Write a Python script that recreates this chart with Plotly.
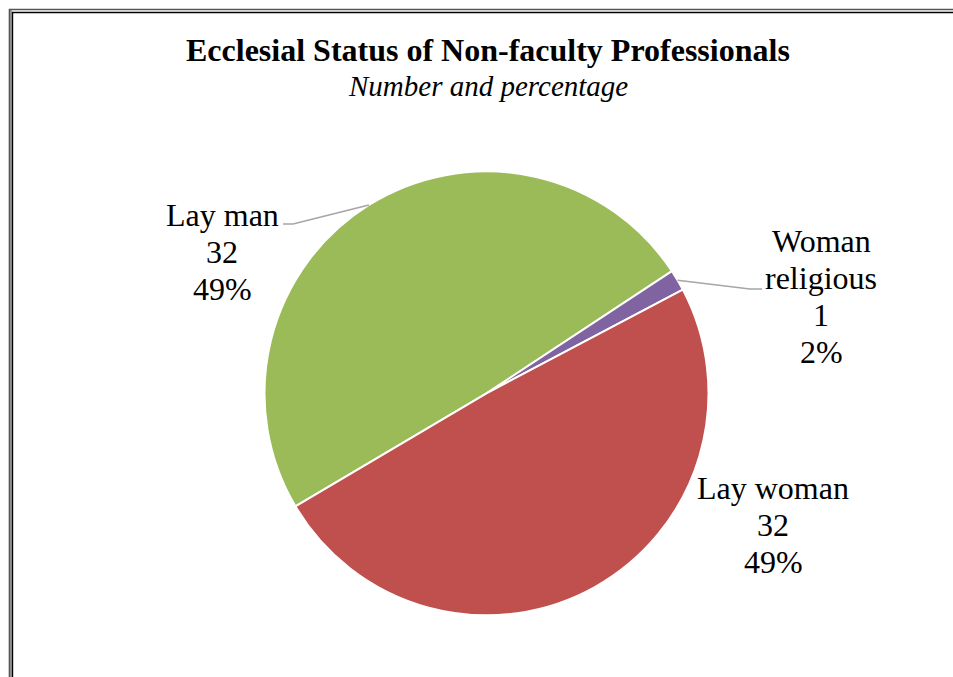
import math
import plotly.graph_objects as go

# Data
categories = ["Lay man", "Woman religious", "Lay woman"]
counts = [32, 1, 32]
colors = ["#9BBB59", "#8064A2", "#C0504D"]

W, H = 953, 677
FONT = "Liberation Serif, Times New Roman, serif"

# Pie geometry (pixels)
CX, CY, R = 486.5, 393.3, 222.0
ROTATION = 239.4  # clockwise degrees from 12 o'clock where the first slice starts


def px(x):
    return x / W


def py(y):
    return 1 - y / H


fig = go.Figure(
    go.Pie(
        labels=categories,
        values=counts,
        marker=dict(colors=colors, line=dict(color="white", width=2)),
        sort=False,
        direction="clockwise",
        rotation=ROTATION,
        textinfo="none",
        hole=0,
        showlegend=False,
        domain=dict(x=[px(CX - R), px(CX + R)], y=[py(CY + R), py(CY - R)]),
    )
)

total = sum(counts)

# Mid-angle of each slice (math convention, degrees) for leader lines
mid_angles = []
start = 90 - ROTATION
for v in counts:
    span = v / total * 360
    mid_angles.append(start - span / 2)
    start -= span

# Label blocks: (centre x, first baseline y, lines of the category name)
label_layout = {
    "Lay man": (222, 226, ["Lay man"]),
    "Woman religious": (821, 252, ["Woman", "religious"]),
    "Lay woman": (773, 499, ["Lay woman"]),
}
# Leader lines: (knee point, end point) for the labelled slices
leaders = {
    "Lay man": ((293, 224), (283, 224)),
    "Woman religious": ((750, 289), (762, 289)),
}

LS = 36.8  # line spacing in px
FS = 32
annotations = []
shapes = []
for cat, v, ang in zip(categories, counts, mid_angles):
    cx, base, name_lines = label_layout[cat]
    lines = name_lines + [str(v), f"{round(v / total * 100)}%"]
    for i, t in enumerate(lines):
        b = base + i * LS
        annotations.append(
            dict(
                x=px(cx), y=py(b - 0.3375 * FS), xref="paper", yref="paper",
                text=t, showarrow=False, xanchor="center", yanchor="middle",
                font=dict(family=FONT, size=FS, color="black"),
            )
        )
    if cat in leaders:
        a = math.radians(ang)
        sx = CX + R * math.cos(a)
        sy = CY - R * math.sin(a)
        (kx, ky), (ex, ey) = leaders[cat]
        shapes.append(
            dict(
                type="path", xref="paper", yref="paper",
                path=f"M {px(sx)} {py(sy)} L {px(kx)} {py(ky)} L {px(ex)} {py(ey)}",
                line=dict(color="#A6A6A6", width=1.6),
            )
        )

# Title and subtitle
annotations.append(
    dict(
        x=px(488), y=py(61 - 0.3375 * 32), xref="paper", yref="paper",
        text="<b>Ecclesial Status of Non-faculty Professionals</b>", showarrow=False,
        xanchor="center", yanchor="middle",
        font=dict(family=FONT, size=32, color="black"),
    )
)
annotations.append(
    dict(
        x=px(488), y=py(96 - 0.3375 * 29), xref="paper", yref="paper",
        text="<i>Number and percentage</i>", showarrow=False,
        xanchor="center", yanchor="middle",
        font=dict(family=FONT, size=29, color="black"),
    )
)

# Double frame around the chart area
shapes += [
    dict(type="rect", xref="paper", yref="paper", layer="below",
         x0=px(10), x1=px(12), y0=py(700), y1=py(10),
         fillcolor="#A8A8A8", line=dict(width=0)),
    dict(type="path", xref="paper", yref="paper",
         path=f"M {px(9.5)} {py(700)} L {px(9.5)} {py(9.5)} L {px(990)} {py(9.5)}",
         line=dict(color="#555555", width=1.6)),
    dict(type="path", xref="paper", yref="paper",
         path=f"M {px(12.5)} {py(700)} L {px(12.5)} {py(12.5)} L {px(990)} {py(12.5)}",
         line=dict(color="#000000", width=1.4)),
]

fig.update_layout(
    width=W, height=H,
    margin=dict(l=0, r=0, t=0, b=0),
    paper_bgcolor="white", plot_bgcolor="white",
    annotations=annotations, shapes=shapes,
    showlegend=False,
)

fig.write_html("out.html")
